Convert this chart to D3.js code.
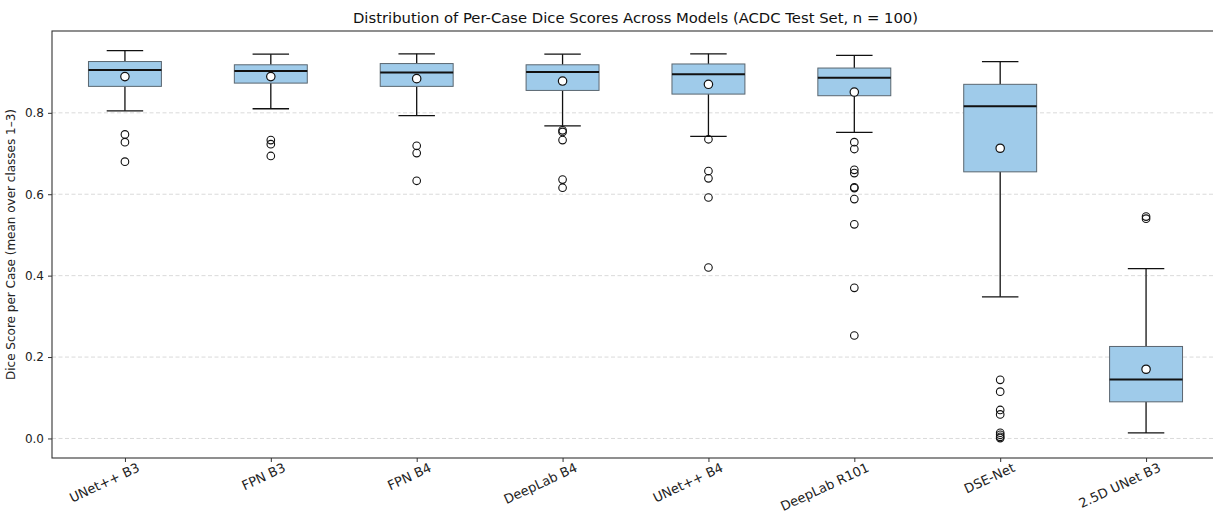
<!DOCTYPE html>
<html><head><meta charset="utf-8">
<script src="https://cdn.jsdelivr.net/npm/d3@7"></script>
<style>body{margin:0;background:#fff;} text{font-family:"DejaVu Sans",sans-serif;}</style>
</head><body><svg id="c" width="1213" height="514"></svg>
<script>
const categories = ["UNet++ B3","FPN B3","FPN B4","DeepLab B4","UNet++ B4","DeepLab R101","DSE-Net","2.5D UNet B3"];
const whiskerLow  = [0.805, 0.810, 0.793, 0.768, 0.742, 0.752, 0.348, 0.0135];
const q1          = [0.865, 0.873, 0.865, 0.855, 0.846, 0.842, 0.655, 0.090];
const medians     = [0.905, 0.903, 0.899, 0.900, 0.895, 0.886, 0.816, 0.145];
const q3          = [0.926, 0.918, 0.921, 0.918, 0.920, 0.910, 0.870, 0.226];
const whiskerHigh = [0.953, 0.944, 0.945, 0.944, 0.945, 0.941, 0.926, 0.417];
const means       = [0.889, 0.889, 0.884, 0.878, 0.870, 0.851, 0.713, 0.170];
const outliers = [
  [0.747, 0.728, 0.680],
  [0.733, 0.723, 0.694],
  [0.719, 0.701, 0.633],
  [0.757, 0.753, 0.733, 0.636, 0.616],
  [0.735, 0.657, 0.639, 0.592, 0.420],
  [0.728, 0.711, 0.660, 0.652, 0.617, 0.615, 0.588, 0.526, 0.370, 0.253],
  [0.144, 0.115, 0.070, 0.059, 0.014, 0.009, 0.004, 0.001],
  [0.545, 0.540]
];
const yTicks = [0.0, 0.2, 0.4, 0.6, 0.8];
const title = "Distribution of Per-Case Dice Scores Across Models (ACDC Test Set, n = 100)";
const yLabel = "Dice Score per Case (mean over classes 1\u20133)";

const svg = d3.select("#c");
const L = 52, R = 1219, T = 31, B = 458;
const x = d3.scaleLinear().domain([0.5, 8.5]).range([L, R]);
const y = d3.scaleLinear().domain([-0.048, 1.001]).range([B, T]);
const step = x(2) - x(1);
const bw = step * 0.5, cw = bw * 0.5;

svg.append("g").selectAll("line").data(yTicks).join("line")
  .attr("x1", L).attr("x2", R).attr("y1", d => y(d)).attr("y2", d => y(d))
  .attr("stroke", "#d6d6d6").attr("stroke-width", 0.9).attr("stroke-dasharray", "4,2.5");

const g = svg.append("g");
categories.forEach((c, i) => {
  const cx = x(i + 1);
  g.append("line").attr("x1", cx).attr("x2", cx).attr("y1", y(q3[i])).attr("y2", y(whiskerHigh[i])).attr("stroke", "#111").attr("stroke-width", 1.3);
  g.append("line").attr("x1", cx).attr("x2", cx).attr("y1", y(q1[i])).attr("y2", y(whiskerLow[i])).attr("stroke", "#111").attr("stroke-width", 1.3);
  g.append("line").attr("x1", cx - cw/2).attr("x2", cx + cw/2).attr("y1", y(whiskerHigh[i])).attr("y2", y(whiskerHigh[i])).attr("stroke", "#111").attr("stroke-width", 1.3);
  g.append("line").attr("x1", cx - cw/2).attr("x2", cx + cw/2).attr("y1", y(whiskerLow[i])).attr("y2", y(whiskerLow[i])).attr("stroke", "#111").attr("stroke-width", 1.3);
  g.append("rect").attr("x", cx - bw/2).attr("width", bw).attr("y", y(q3[i])).attr("height", y(q1[i]) - y(q3[i]))
    .attr("fill", "#9fcbea").attr("stroke", "#5a6670").attr("stroke-width", 1);
  g.append("line").attr("x1", cx - bw/2).attr("x2", cx + bw/2).attr("y1", y(medians[i])).attr("y2", y(medians[i])).attr("stroke", "#111").attr("stroke-width", 2);
  g.selectAll(null).data(outliers[i]).join("circle")
    .attr("cx", cx).attr("cy", d => y(d)).attr("r", 3.8)
    .attr("fill", "none").attr("stroke", "#111").attr("stroke-width", 1.1);
  g.append("circle").attr("cx", cx).attr("cy", y(means[i])).attr("r", 4.2)
    .attr("fill", "#fff").attr("stroke", "#111").attr("stroke-width", 1.2);
});

const yAxis = d3.axisLeft(y).tickValues(yTicks).tickFormat(d3.format(".1f")).tickSize(4).tickPadding(4);
const ya = svg.append("g").attr("transform", `translate(${L},0)`).call(yAxis);
ya.select(".domain").remove();
ya.selectAll("text").attr("font-size", 12).attr("fill", "#222");
ya.selectAll("line").attr("stroke", "#333");

const xAxis = d3.axisBottom(x).tickValues(d3.range(1, 9)).tickFormat(d => categories[d - 1]).tickSize(4).tickPadding(0);
const xa = svg.append("g").attr("transform", `translate(0,${B})`).call(xAxis);
xa.select(".domain").remove();
xa.selectAll("line").attr("stroke", "#333");
xa.selectAll("text").attr("font-size", 13).attr("fill", "#222")
  .attr("text-anchor", "end").attr("x", 0).attr("y", 0).attr("dy", "0.75em")
  .attr("transform", "translate(11,4) rotate(-25)");

svg.append("rect").attr("x", L).attr("y", T).attr("width", R - L).attr("height", B - T)
  .attr("fill", "none").attr("stroke", "#333").attr("stroke-width", 1.1);

svg.append("text").attr("x", (L + R) / 2).attr("y", 23).attr("text-anchor", "middle")
  .attr("font-size", 14.8).attr("fill", "#111").text(title);
svg.append("text").attr("transform", `translate(15,${(T + B) / 2}) rotate(-90)`).attr("text-anchor", "middle")
  .attr("font-size", 12).attr("fill", "#222").text(yLabel);
</script></body></html>
